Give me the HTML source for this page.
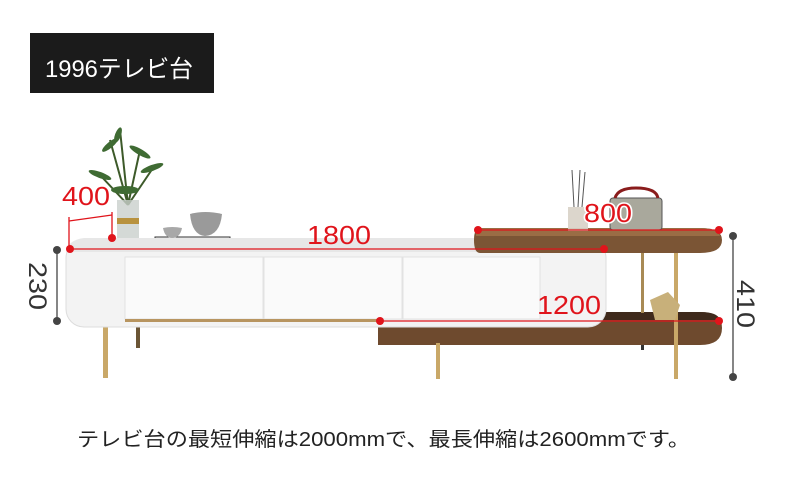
<!DOCTYPE html>
<html><head><meta charset="utf-8"><style>
html,body{margin:0;padding:0;background:#fff;width:790px;height:487px;overflow:hidden}
svg{display:block}
text{font-family:"Liberation Sans","Noto Sans CJK JP",sans-serif}
</style></head><body>
<svg width="790" height="487" viewBox="0 0 790 487" xmlns="http://www.w3.org/2000/svg">
<rect x="30" y="33" width="184" height="60" fill="#1b1b1b"/>
<text x="45" y="77" font-size="24" fill="#fff" textLength="148" lengthAdjust="spacingAndGlyphs">1996テレビ台</text>

<g stroke="#3d5a2a" stroke-width="2" fill="none">
<path d="M128 205 L110 140 M128 205 L140 150 M128 205 L100 175 M128 205 L155 165 M128 205 L120 130"/>
</g>
<g fill="#3f6b33">
<ellipse cx="110" cy="145" rx="10" ry="3" transform="rotate(-40 110 145)"/>
<ellipse cx="140" cy="152" rx="12" ry="3" transform="rotate(30 140 152)"/>
<ellipse cx="100" cy="175" rx="12" ry="3" transform="rotate(20 100 175)"/>
<ellipse cx="152" cy="168" rx="12" ry="3" transform="rotate(-20 152 168)"/>
<ellipse cx="125" cy="190" rx="14" ry="4"/>
<ellipse cx="118" cy="135" rx="8" ry="3" transform="rotate(-70 118 135)"/>
</g>
<rect x="117" y="200" width="22" height="42" fill="#c9cfcc" opacity=".8"/>
<rect x="117" y="218" width="22" height="6" fill="#b8923e"/>
<rect x="155" y="237" width="75" height="9" fill="#f2f2f2" stroke="#333" stroke-width="1"/>
<path d="M190 214 Q205 210 222 214 Q220 235 205 236 Q192 235 190 214Z" fill="#9a9a9a"/>
<path d="M163 228 Q172 226 182 228 Q180 238 172 238 Q165 238 163 228Z" fill="#a8a8a8"/>

<path d="M378 312 L700 312 Q722 312 722 328 Q722 345 700 345 L378 345 Z" fill="#6e4a2e"/>
<path d="M378 312 L700 312 Q718 312 720 320 L378 320 Z" fill="#3f2a1c"/>
<rect x="436" y="343" width="4" height="36" fill="#c9a868"/>
<rect x="674" y="250" width="4" height="129" fill="#c9a868"/>
<rect x="641" y="253" width="3" height="60" fill="#a88a55"/>
<rect x="641" y="345" width="3" height="5" fill="#333"/>
<rect x="103" y="318" width="5" height="60" fill="#c9a868"/>
<rect x="136" y="318" width="4" height="30" fill="#6b5535"/>
<path d="M650 300 L668 292 L680 305 L675 320 L655 320 Z" fill="#c8b07a"/>

<rect x="66" y="240" width="540" height="87" rx="18" ry="18" fill="#f3f3f3" stroke="#dcdcdc"/>
<path d="M84 238 L588 238 Q606 240 606 252 L66 252 Q68 240 84 238Z" fill="#e7e7e7"/>
<rect x="125" y="257" width="138" height="62" fill="#fafafa" stroke="#e2e2e2"/>
<rect x="264" y="257" width="138" height="62" fill="#fafafa" stroke="#e2e2e2"/>
<rect x="403" y="257" width="137" height="62" fill="#fafafa" stroke="#e2e2e2"/>
<rect x="125" y="319" width="255" height="3" fill="#b89560"/>

<path d="M480 228 L700 228 Q722 228 722 240 Q722 253 700 253 L480 253 Q474 253 474 240 Q474 228 480 228Z" fill="#7b5535"/>
<path d="M480 228 L700 228 Q718 228 720 236 L476 236 Q476 228 480 228Z" fill="#9a6d45"/>
<rect x="568" y="207" width="20" height="24" fill="#d8d2c6" opacity=".9"/>
<g stroke="#555" stroke-width="1"><line x1="574" y1="207" x2="572" y2="170"/><line x1="578" y1="207" x2="580" y2="170"/><line x1="582" y1="207" x2="585" y2="172"/></g>
<rect x="610" y="198" width="52" height="32" rx="3" fill="#a9a89c" stroke="#555"/>
<path d="M615 198 Q618 188 636 188 Q656 188 658 198" stroke="#8a1c1c" stroke-width="3" fill="none"/>

<g stroke="#e0141b" stroke-width="1.3" fill="none">
<line x1="69" y1="249" x2="69" y2="217"/><line x1="112" y1="238" x2="112" y2="212"/>
<line x1="69" y1="221" x2="112" y2="215"/>
<line x1="70" y1="249" x2="604" y2="249"/>
<line x1="478" y1="230" x2="719" y2="230"/>
<line x1="380" y1="321" x2="719" y2="321"/>
</g>
<g fill="#e0141b">
<circle cx="70" cy="249" r="4"/><circle cx="112" cy="238" r="4"/><circle cx="604" cy="249" r="4"/>
<circle cx="478" cy="230" r="4"/><circle cx="719" cy="230" r="4"/>
<circle cx="380" cy="321" r="4"/><circle cx="719" cy="321" r="4"/>
</g>
<g fill="#e0141b" font-size="26">
<text x="62" y="205" textLength="48" lengthAdjust="spacingAndGlyphs">400</text>
<text x="307" y="244" textLength="64" lengthAdjust="spacingAndGlyphs">1800</text>
<text x="584" y="222" textLength="48" lengthAdjust="spacingAndGlyphs" stroke="#fff" stroke-width="3" paint-order="stroke">800</text>
<text x="537" y="314" textLength="64" lengthAdjust="spacingAndGlyphs">1200</text>
</g>
<g stroke="#444" stroke-width="1.3"><line x1="57" y1="250" x2="57" y2="321"/><line x1="733" y1="236" x2="733" y2="377"/></g>
<g fill="#444"><circle cx="57" cy="250" r="4"/><circle cx="57" cy="321" r="4"/><circle cx="733" cy="236" r="4"/><circle cx="733" cy="377" r="4"/></g>
<text transform="translate(29 262) rotate(90)" font-size="25" fill="#333" textLength="48" lengthAdjust="spacingAndGlyphs">230</text>
<text transform="translate(737 280) rotate(90)" font-size="25" fill="#333" textLength="48" lengthAdjust="spacingAndGlyphs">410</text>

<text x="77" y="446" font-size="20" fill="#222" textLength="613" lengthAdjust="spacingAndGlyphs">テレビ台の最短伸縮は2000mmで、最長伸縮は2600mmです。</text>
</svg>
</body></html>
